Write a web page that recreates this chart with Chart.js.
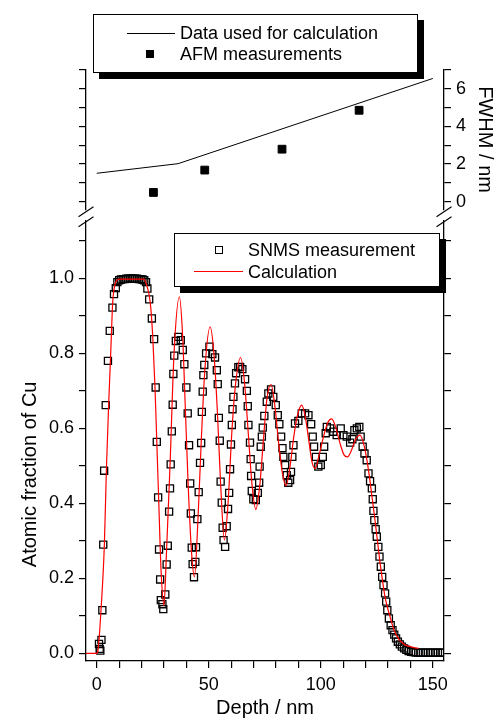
<!DOCTYPE html>
<html>
<head>
<meta charset="utf-8">
<script src="https://cdn.jsdelivr.net/npm/chart.js@4.4.1/dist/chart.umd.min.js"></script>
<style>
  html, body { margin: 0; padding: 0; background: #fff; }
  #wrap { position: relative; width: 500px; height: 720px; overflow: hidden; font-family: "Liberation Sans", Arial, sans-serif; color: #000; }
  .panel { position: absolute; left: 0; width: 500px; }
  #bottom-panel { top: 190px; height: 530px; }
  #top-panel { top: 0; height: 225px; }
  .legend { position: absolute; box-sizing: border-box; background: #fff; border: 1px solid #000; box-shadow: 6px 6px 0 #000; font-size: 18px; }
  .row { position: absolute; height: 22px; line-height: 22px; white-space: nowrap; }
  .swatch { position: absolute; box-sizing: border-box; }
</style>
</head>
<body>
<div id="wrap">
  <div class="panel" id="bottom-panel"><canvas id="fraction-chart" width="500" height="530"></canvas></div>
  <div class="panel" id="top-panel"><canvas id="fwhm-chart" width="500" height="225"></canvas></div>

  <div class="legend" style="left:93px; top:14px; width:325px; height:59px;">
    <div class="swatch" style="left:33px; top:18px; width:48px; height:1px; background:#000;"></div>
    <div class="row" style="left:86px; top:7px;">Data used for calculation</div>
    <div class="swatch" style="left:52px; top:35px; width:8px; height:8px; background:#000;"></div>
    <div class="row" style="left:86px; top:28px;">AFM measurements</div>
  </div>

  <div class="legend" style="left:174px; top:233px; width:266px; height:54px;">
    <div class="swatch" style="left:40px; top:12px; width:8px; height:8px; border:1px solid #000;"></div>
    <div class="row" style="left:73px; top:5px;">SNMS measurement</div>
    <div class="swatch" style="left:19px; top:37px; width:49px; height:1px; background:#ff0000;"></div>
    <div class="row" style="left:73px; top:27px;">Calculation</div>
  </div>
</div>

<script>
// upper panel: FWHM vs depth
const fwhmLineDepth = [0, 36.3, 150];
const fwhmLineValue = [1.51, 2.02, 6.55];
const afmDepth = [25.3, 48.2, 82.7, 117.1];
const afmFwhm = [0.49, 1.68, 2.79, 4.86];
const fwhmTicks = [0, 1, 2, 3, 4, 5, 6, 7];
const fwhmLabels = [0, 2, 4, 6];

// lower panel: SNMS points and calculated profile
const snmsDepth = [
  1.0, 1.3, 1.6, 2.1, 2.5, 2.9, 3.3, 4.0, 5.0, 5.8,
  7.0, 7.7, 8.5, 9.2, 10.0, 10.8, 11.6, 12.4, 13.2, 14.0,
  14.8, 15.6, 16.4, 17.2, 18.0, 18.8, 19.6, 20.4, 21.2, 22.0,
  22.6, 23.4, 24.6, 25.6, 26.3, 26.8, 27.4, 27.8, 28.3, 28.6,
  29.3, 29.7, 30.6, 31.2, 31.7, 32.3, 32.7, 33.0, 33.5, 33.9,
  34.2, 34.6, 35.3, 36.4, 37.5, 38.4, 39.1, 40.0, 40.6, 41.2,
  41.7, 42.0, 42.4, 42.8, 43.4, 44.0, 44.3, 44.9, 45.5, 46.1,
  46.6, 46.9, 47.3, 47.6, 48.0, 48.8, 50.3, 51.6, 52.8, 53.6,
  54.0, 54.5, 54.9, 55.3, 55.8, 56.2, 56.6, 57.3, 58.0, 58.6,
  59.1, 59.5, 59.9, 60.3, 60.6, 61.0, 61.7, 62.2, 63.2, 64.0,
  65.0, 66.2, 67.0, 67.4, 67.7, 68.4, 68.7, 68.9, 69.2, 69.9,
  71.0, 71.9, 72.5, 72.7, 73.2, 73.7, 74.1, 74.8, 75.9, 76.6,
  77.8, 78.8, 79.9, 80.8, 81.5, 82.3, 82.9, 83.3, 84.1, 84.8,
  85.5, 86.3, 86.7, 87.3, 87.8, 88.5, 90.0, 91.5, 93.0, 94.5,
  95.7, 96.4, 97.0, 97.8, 98.9, 100.0, 100.9, 101.5, 102.2, 102.7,
  104.2, 105.6, 107.1, 108.9, 110.1, 111.6, 113.1, 114.1, 115.0, 116.1,
  117.2, 117.8, 118.7, 119.5, 120.5, 121.3, 122.0, 122.8, 123.2, 123.5,
  123.9, 124.5, 125.0, 125.7, 126.2, 126.8, 127.4, 128.0, 128.7, 129.2,
  129.7, 130.4, 131.2, 132.0, 132.8, 133.6, 134.4, 135.3, 136.2, 137.2,
  138.2, 139.2, 140.3, 141.3, 142.4, 143.5, 144.6, 145.7, 146.8, 147.9,
  149.0, 150.1, 151.2, 152.3, 153.4, 154.4
];
const snmsFraction = [
  0.025, 0.012, 0.007, 0.036, 0.115, 0.29, 0.487, 0.662, 0.78, 0.86,
  0.922, 0.958, 0.974, 0.99, 0.995, 0.997, 0.998, 0.998, 0.999, 0.999,
  0.999, 0.999, 0.999, 0.999, 0.999, 0.998, 0.998, 0.997, 0.995, 0.99,
  0.973, 0.944, 0.893, 0.838, 0.709, 0.564, 0.416, 0.277, 0.197, 0.142,
  0.131, 0.118, 0.157, 0.237, 0.287, 0.378, 0.44, 0.504, 0.592, 0.663,
  0.745, 0.794, 0.833, 0.844, 0.835, 0.809, 0.771, 0.709, 0.64, 0.555,
  0.453, 0.373, 0.282, 0.238, 0.203, 0.244, 0.283, 0.358, 0.43, 0.508,
  0.561, 0.644, 0.698, 0.742, 0.769, 0.8, 0.818, 0.798, 0.789, 0.755,
  0.718, 0.628, 0.567, 0.458, 0.402, 0.335, 0.302, 0.284, 0.339, 0.385,
  0.428, 0.491, 0.557, 0.609, 0.651, 0.684, 0.72, 0.747, 0.763, 0.764,
  0.758, 0.731, 0.70, 0.659, 0.609, 0.562, 0.518, 0.473, 0.433, 0.411,
  0.409, 0.428, 0.455, 0.498, 0.551, 0.578, 0.602, 0.633, 0.671, 0.693,
  0.704, 0.684, 0.662, 0.635, 0.611, 0.578, 0.547, 0.524, 0.502, 0.475,
  0.455, 0.462, 0.484, 0.524, 0.555, 0.613, 0.62, 0.64, 0.64, 0.635,
  0.611, 0.578, 0.551, 0.524, 0.498, 0.502, 0.524, 0.551, 0.587, 0.604,
  0.600, 0.591, 0.582, 0.600, 0.582, 0.578, 0.562, 0.571, 0.595, 0.600,
  0.604, 0.578, 0.551, 0.533, 0.515, 0.48, 0.459, 0.44, 0.411, 0.38,
  0.355, 0.331, 0.311, 0.284, 0.258, 0.231, 0.204, 0.182, 0.16, 0.138,
  0.115, 0.093, 0.075, 0.062, 0.05, 0.04, 0.031, 0.024, 0.018, 0.013,
  0.009, 0.006, 0.004, 0.003, 0.002, 0.002, 0.002, 0.002, 0.002, 0.002,
  0.002, 0.002, 0.002, 0.002, 0.002, 0.002
];
const calcDepth = [
  -5, 0, 0.6, 1.9, 3.4, 4.3, 5.3, 6.1, 6.6, 7.1, 8.3, 10, 21, 22, 23.9, 25, 26, 26.8, 27.7, 28.7,
  30.0, 31.0, 32.7, 34.5, 36.9, 38.3, 39.5, 40.8, 42.3, 43.6, 45.2, 46.6, 48.3, 50.6, 52.3, 53.8,
  55.3, 57.0, 58.6, 60.4, 62.0, 64.2, 66.0, 67.6, 69.3, 71.0, 72.8, 74.4, 76.0, 77.8, 79.5, 81.2,
  82.9, 84.5, 86.3, 88.0, 89.8, 91.5, 93.1, 94.6, 96.1, 97.5, 99.3, 101.3, 103.1, 104.9, 106.8,
  108.6, 110.3, 111.9, 113.6, 115.5, 117.5, 119.5, 121.0, 122.0, 124.2, 126.5, 128.7, 130.9,
  132.5, 134.6, 137.0, 139.1, 143.6
];
const calcFraction = [
  0, 0, 0.01, 0.115, 0.29, 0.489, 0.662, 0.78, 0.86, 0.934, 0.987, 0.998, 0.998, 0.987, 0.934, 0.844, 0.709, 0.564, 0.4, 0.222,
  0.127, 0.25, 0.5, 0.8, 0.951, 0.85, 0.66, 0.45, 0.27, 0.204, 0.36, 0.56, 0.76, 0.871, 0.8, 0.65,
  0.45, 0.302, 0.4, 0.6, 0.72, 0.789, 0.72, 0.59, 0.45, 0.384, 0.45, 0.57, 0.68, 0.717, 0.66, 0.56,
  0.48, 0.447, 0.5, 0.58, 0.64, 0.662, 0.63, 0.57, 0.51, 0.493, 0.53, 0.58, 0.615, 0.625, 0.6,
  0.56, 0.53, 0.524, 0.54, 0.57, 0.582, 0.55, 0.5, 0.458, 0.355, 0.24, 0.15, 0.098,
  0.065, 0.04, 0.025, 0.019, 0.013
];
const depthTicks = [0, 10, 20, 30, 40, 50, 60, 70, 80, 90, 100, 110, 120, 130, 140, 150];
const depthLabels = [0, 50, 100, 150];
const fractionTicks = [0, 0.1, 0.2, 0.3, 0.4, 0.5, 0.6, 0.7, 0.8, 0.9, 1.0, 1.1];
const fractionLabels = [0, 0.2, 0.4, 0.6, 0.8, 1.0];

const FONT = 'Liberation Sans';
const pts = (xs, ys) => xs.map((x, i) => ({ x: x, y: ys[i] }));

// tick marks outside the frame, no grid inside
function frameAxis(position, min, max, ticks, labelFn, width) {
  return {
    type: 'linear', position: position, min: min, max: max,
    afterBuildTicks: s => { s.ticks = ticks.map(v => ({ value: v })); },
    afterFit: s => { if (s.isHorizontal()) s.height = width; else s.width = width; },
    grid: { drawOnChartArea: false, drawTicks: true, tickLength: 7, color: '#000', lineWidth: 1.2 },
    border: { display: true, color: '#000', width: 1.3 },
    ticks: { autoSkip: false, maxRotation: 0, color: '#000', padding: 5, font: { family: FONT, size: 18 }, callback: labelFn }
  };
}

// the two slashes where the y axes are broken
const axisBreaks = {
  id: 'axisBreaks',
  afterDraw(chart) {
    const { ctx, chartArea } = chart;
    const top = chartArea.top;
    ctx.save();
    ctx.strokeStyle = '#000';
    ctx.lineWidth = 1.2;
    [chartArea.left, chartArea.right].forEach(x => {
      [-4.3, 5.7].forEach(dy => {
        ctx.beginPath();
        ctx.moveTo(x - 7.5, top + dy);
        ctx.lineTo(x + 7.5, top + dy - 10);
        ctx.stroke();
      });
    });
    ctx.restore();
  }
};

const fracY = frameAxis('left', -0.0205, 1.153, fractionTicks,
  v => fractionLabels.some(l => Math.abs(l - v) < 1e-9) ? v.toFixed(1) : '', 86);
fracY.title = { display: true, text: 'Atomic fraction of Cu            ', color: '#000',
  font: { family: FONT, size: 20 }, padding: { top: 18, bottom: 0 } };
const fracY2 = frameAxis('right', -0.0205, 1.153, fractionTicks, () => '', 56);
const depthX = frameAxis('bottom', -4.8, 155, depthTicks,
  v => depthLabels.includes(v) ? String(v) : '', 59);
depthX.ticks.padding = 6;
depthX.title = { display: true, text: 'Depth / nm', color: '#000',
  font: { family: FONT, size: 20 }, padding: { top: 0, bottom: 0 } };

new Chart(document.getElementById('fraction-chart'), {
  type: 'scatter',
  data: {
    datasets: [
      { label: 'Calculation', type: 'line', data: pts(calcDepth, calcFraction), yAxisID: 'y',
        borderColor: '#ff0000', borderWidth: 1.2, pointRadius: 0, cubicInterpolationMode: 'monotone', fill: false, order: 0 },
      { label: 'SNMS measurement', data: pts(snmsDepth, snmsFraction), yAxisID: 'y',
        pointStyle: 'rect', pointRadius: 5, borderColor: '#000', borderWidth: 1.3, backgroundColor: 'rgba(0,0,0,0)', order: 1 }
    ]
  },
  options: {
    responsive: false, animation: false,
    layout: { padding: { top: 31, bottom: 0, left: 0, right: 0 } },
    plugins: { legend: { display: false }, tooltip: { enabled: false } },
    scales: { x: depthX, y: fracY, y2: fracY2 }
  },
  plugins: [axisBreaks]
});

const fwhmLeft = frameAxis('left', -0.4, 7, fwhmTicks, () => '', 86);
const fwhmRight = frameAxis('right', -0.4, 7, fwhmTicks, v => fwhmLabels.includes(v) ? String(v) : '', 56);
fwhmRight.title = { display: true, text: 'FWHM / nm', color: '#000',
  font: { family: FONT, size: 20 }, padding: { top: 3, bottom: 0 } };

new Chart(document.getElementById('fwhm-chart'), {
  type: 'scatter',
  data: {
    datasets: [
      { label: 'Data used for calculation', type: 'line', data: pts(fwhmLineDepth, fwhmLineValue), yAxisID: 'y',
        borderColor: '#000', borderWidth: 1, pointRadius: 0, tension: 0, fill: false },
      { label: 'AFM measurements', data: pts(afmDepth, afmFwhm), yAxisID: 'y',
        pointStyle: 'rect', pointRadius: 5.5, borderColor: '#000', backgroundColor: '#000' }
    ]
  },
  options: {
    responsive: false, animation: false,
    layout: { padding: { top: 70, bottom: 15, left: 0, right: 0 } },
    plugins: { legend: { display: false }, tooltip: { enabled: false } },
    scales: {
      x: { type: 'linear', min: -4.8, max: 155, display: false },
      y: fwhmLeft, y2: fwhmRight
    }
  }
});
</script>
</body>
</html>
